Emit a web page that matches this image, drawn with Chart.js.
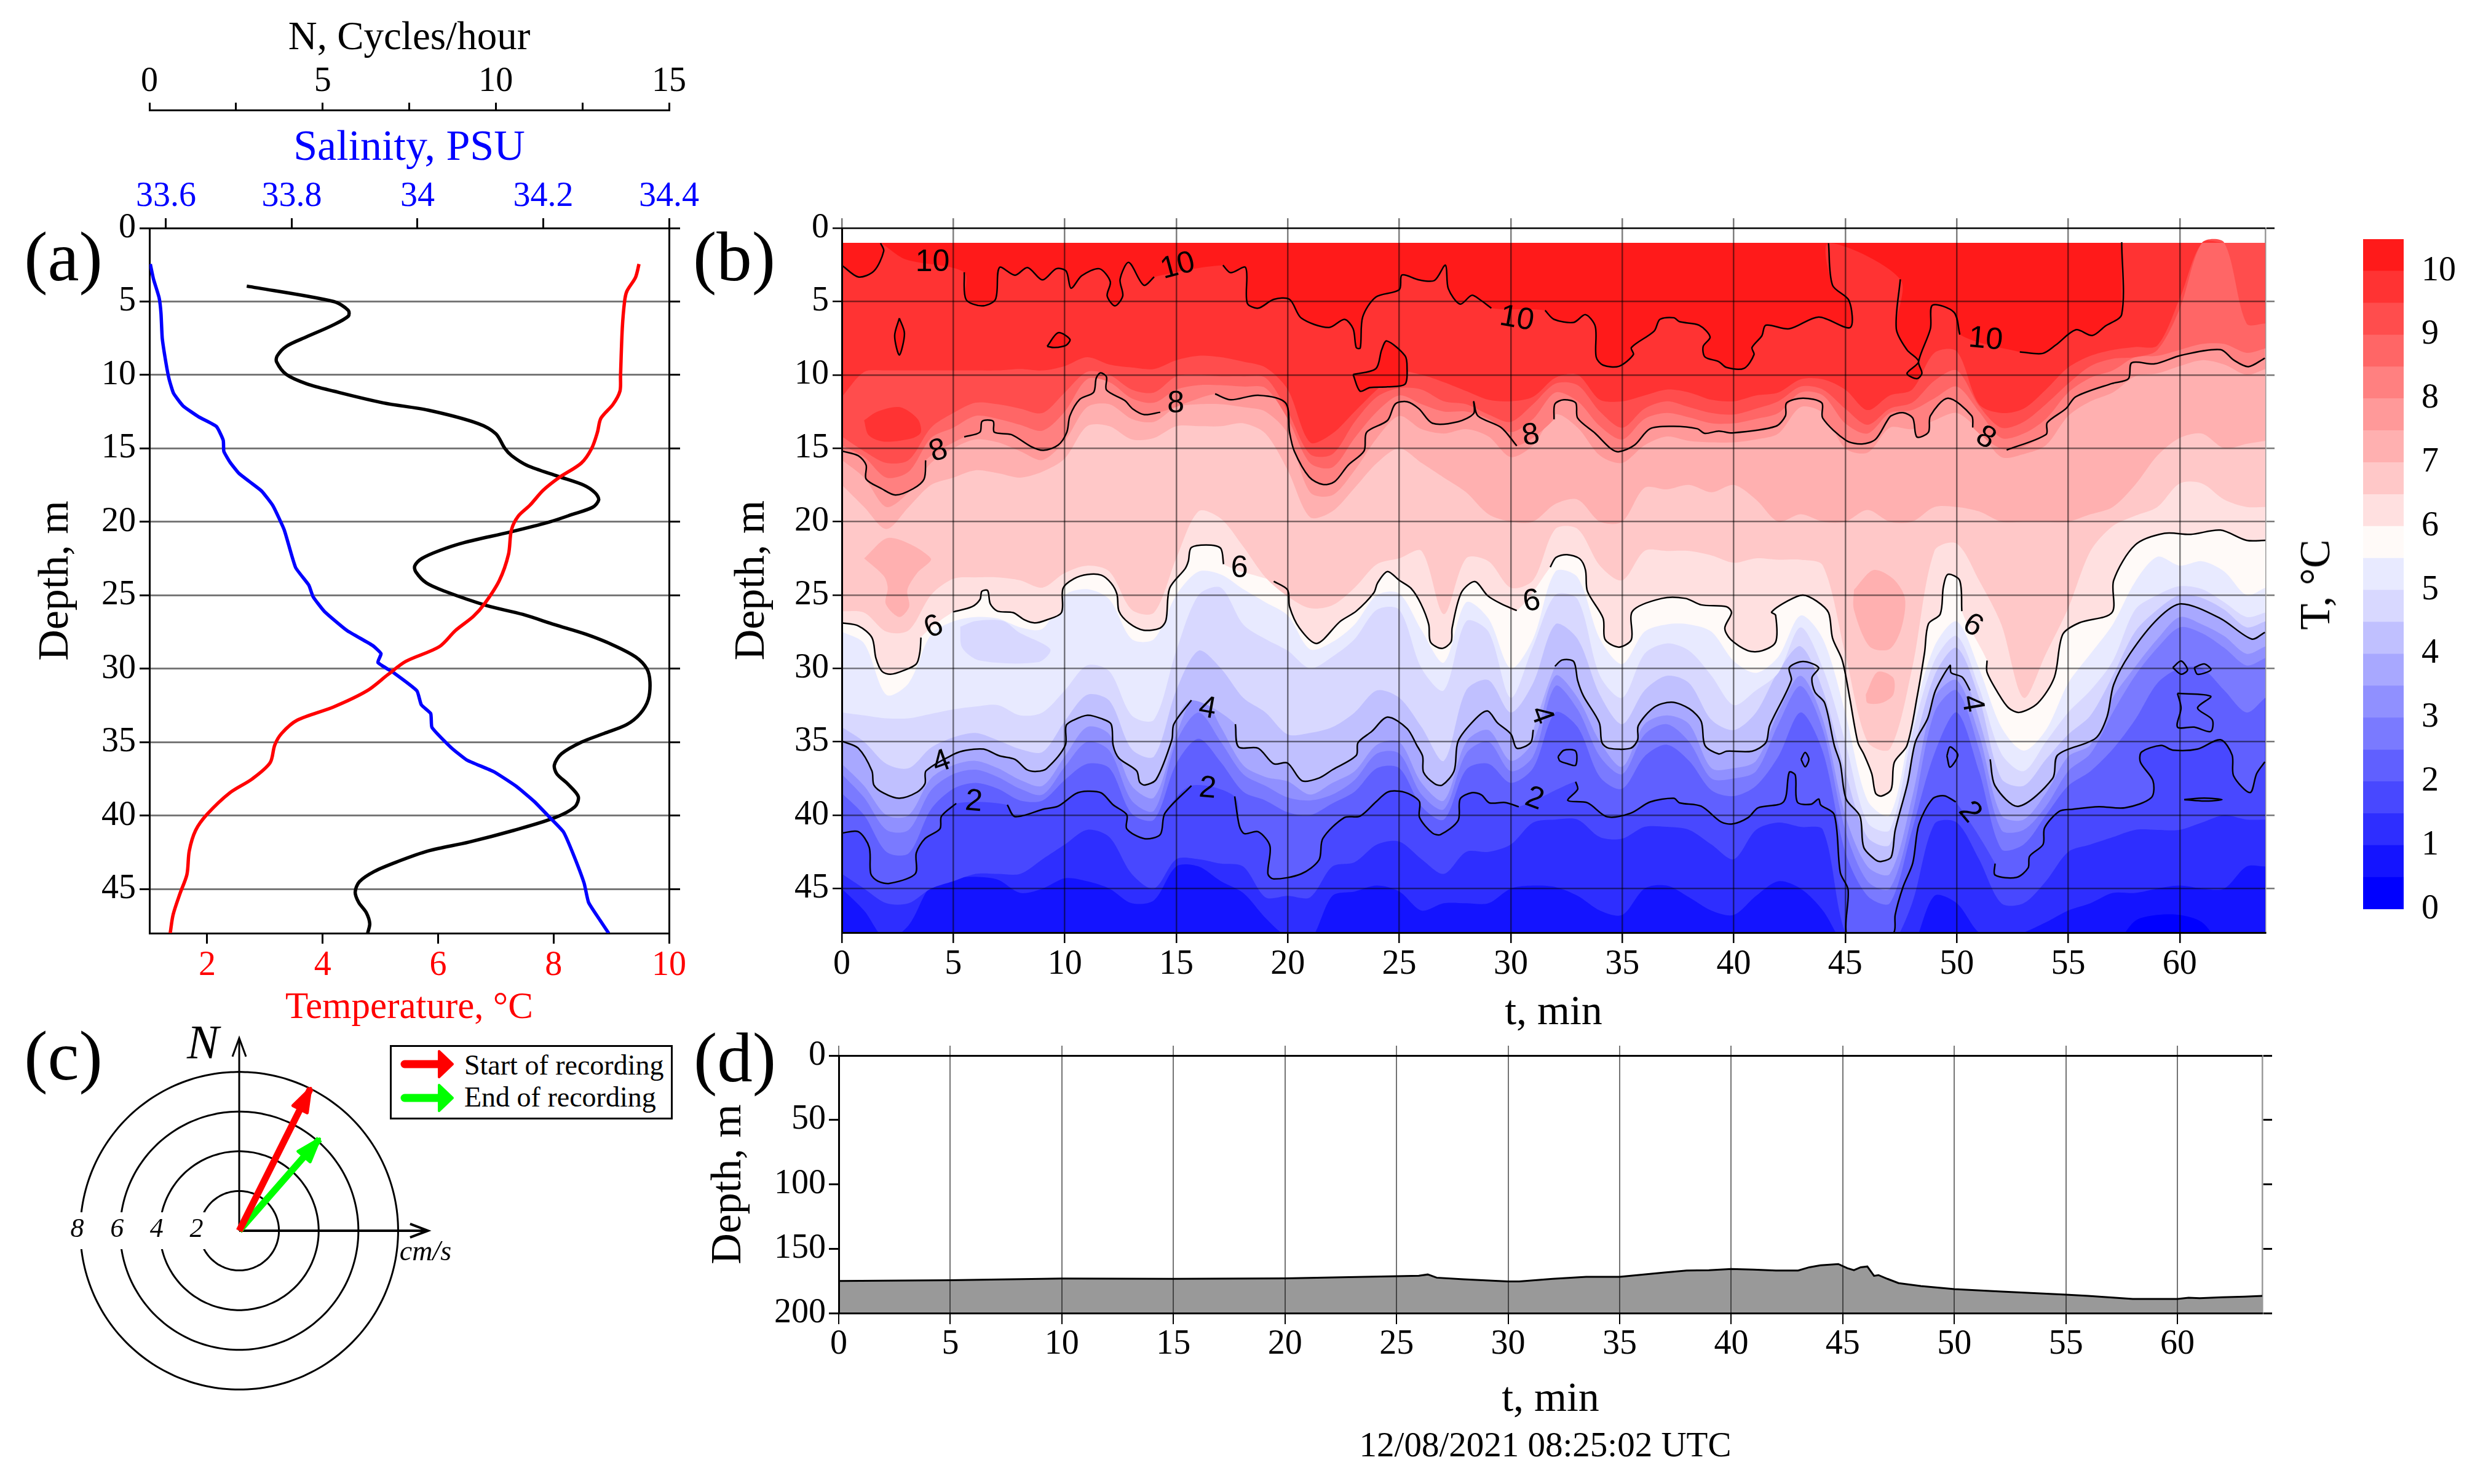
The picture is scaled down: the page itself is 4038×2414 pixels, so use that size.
<!doctype html>
<html><head><meta charset="utf-8">
<script src="https://cdn.jsdelivr.net/npm/chart.js@4"></script>
<style>
body{margin:0;background:#fff;width:4038px;height:2414px;position:relative;overflow:hidden;font-family:"Liberation Serif",serif;color:#000}
canvas{position:absolute;left:0;top:0}
.t{position:absolute;white-space:nowrap;transform:translate(-50%,-50%);line-height:1}
</style></head><body>
<canvas id="pa" width="4038" height="2414"></canvas>
<canvas id="pb" width="4038" height="2414"></canvas>
<canvas id="pc" width="4038" height="2414"></canvas>
<canvas id="pd" width="4038" height="2414"></canvas>
<canvas id="pbar" width="4038" height="2414"></canvas>
<div class="t" style="left:103px;top:417px;font-size:115px">(a)</div>
<div class="t" style="left:1194px;top:417px;font-size:115px">(b)</div>
<div class="t" style="left:103px;top:1717px;font-size:115px">(c)</div>
<div class="t" style="left:1195px;top:1720px;font-size:115px">(d)</div>
<div class="t" style="left:3765px;top:951px;font-size:70px;transform:translate(-50%,-50%) rotate(-90deg)">T, °C</div>
<div class="t" style="left:2513px;top:2349px;font-size:57px">12/08/2021 08:25:02 UTC</div>
<div style="position:absolute;left:634px;top:1700px;width:454px;height:115px;border:3px solid #000;background:#fff"></div>
<svg style="position:absolute;left:634px;top:1700px" width="460" height="121">
<path d="M24 31H90" stroke="#f00" stroke-width="13" stroke-linecap="round"/><path d="M80 10L102 31L80 52Z" fill="#f00" stroke="#f00" stroke-width="4" stroke-linejoin="round"/>
<path d="M24 86H90" stroke="#0f0" stroke-width="13" stroke-linecap="round"/><path d="M80 65L102 86L80 107Z" fill="#0f0" stroke="#0f0" stroke-width="4" stroke-linejoin="round"/>
</svg>
<div class="t" style="left:755px;top:1733px;font-size:46px;transform:translate(0,-50%)">Start of recording</div>
<div class="t" style="left:755px;top:1785px;font-size:46px;transform:translate(0,-50%)">End of recording</div>
<script>
// ---------- panel a: profiles, (value, depth)
const nCycles = [2.81,5.32,5.74,5.74,5.26,4.54,3.95,3.69,3.67,3.95,4.54,5.32,6.75,8.05,9.48,10,10.26,10.46,10.9,11.8,12.54,12.87,12.97,12.8,12.2,11.56,10.4,9.1,8.38,7.86,7.66,7.69,7.99,8.5,9.74,10.78,11.7,12.6,13.4,14.04,14.36,14.45,14.4,14.17,13.78,13.13,12.47,11.89,11.69,11.76,12.08,12.38,12.28,11.69,10.52,9.22,8.05,7.14,6.49,6.06,5.94,6.04,6.26,6.36,6.3];
const nDepth = [3.95,5,5.6,6,6.65,7.4,8.05,8.7,9.1,9.96,10.6,11.1,11.9,12.4,13.3,14,15,15.5,16.15,16.9,17.5,18.03,18.5,19,19.5,20,20.7,21.4,21.95,22.5,23,23.4,24.15,24.7,25.7,26.3,27,27.65,28.4,29.2,30,30.9,32.1,33.05,33.8,34.4,35,35.8,36.55,37.15,37.85,38.7,39.4,40.15,41,41.8,42.4,43.15,43.8,44.5,45.2,45.9,46.6,47.35,48];
const salinity = [33.575,33.58,33.589,33.592,33.594,33.6,33.605,33.612,33.627,33.652,33.68,33.691,33.692,33.702,33.716,33.734,33.752,33.77,33.788,33.806,33.827,33.834,33.852,33.888,33.928,33.942,33.937,33.963,33.999,34.006,34.021,34.023,34.053,34.078,34.121,34.157,34.186,34.211,34.232,34.247,34.265,34.272,34.29,34.304];
const salDepth = [2.45,3.46,4.74,5.8,7.5,9.2,10.3,11.25,12.1,12.85,13.5,14.45,15.2,15.95,16.7,17.3,17.9,18.9,20.55,23.1,24.3,25.1,26.1,27.4,28.4,28.97,29.57,30.3,31.5,32.45,33.05,34,35.35,36.2,37,38,39.05,40.15,41.1,42.55,44.6,45.9,47.1,48];
const temperature = [9.48,9.42,9.27,9.23,9.19,9.16,9.15,9.03,8.82,8.76,8.66,8.48,8.09,7.82,7.59,7.39,7.27,7.22,7.06,6.8,6.61,6.3,6.02,5.44,5.13,4.77,4.19,3.56,3.29,3.17,3.09,2.78,2.39,2,1.8,1.69,1.65,1.53,1.41,1.36];
const tempDepth = [2.45,3.35,4.3,5,6.87,10.07,11.1,12,12.95,13.9,15,16,17,17.85,18.87,19.6,20.55,22.2,24,25.6,26.44,27.4,28.5,29.5,30.4,31.5,32.6,33.5,34.4,35.2,36.4,37.5,38.45,39.9,41,42.4,44,45.3,46.75,48];
const depthTicksA = [0,5,10,15,20,25,30,35,40,45];
const nTicks = [0,2.5,5,7.5,10,12.5,15];
const salTicks = [33.6,33.8,34,34.2,34.4];
const tempTicks = [2,4,6,8,10];

// ---------- panel b: temperature section
const timeTicks = [0,5,10,15,20,25,30,35,40,45,50,55,60];
const bandColors = ['#0000FF','#1414FF','#2E2EFF','#4848FF','#6060FF','#7A7AFF','#9090FF','#A8A8FF','#C0C0FF','#D8D8FF','#E8EAFF','#FFFAF8','#FFE0E0','#FFC8C8','#FFB0B0','#FF9999','#FF8080','#FF6666','#FF4D4D','#FF3333','#FF1A1A'];
const barTicks = [0,1,2,3,4,5,6,7,8,9,10];
// one minute sampling for the unlabelled isotherms
const tMin = [0,1,2,3,4,5,6,7,8,9,10,11,12,13,14,15,16,17,18,19,20,21,22,23,24,25,26,27,28,29,30,31,32,33,34,35,36,37,38,39,40,41,42,43,44,45,46,47,48,49,50,51,52,53,54,55,56,57,58,59,60,61,62,63,63.84];
const lvl95 = [11.5,9.8,9.7,9.7,9.7,9.7,9.7,9.7,9.6,9.7, 9.4,8.8,9.3,9.5,9.6,9,8.7,8.8,9.1,9.5, 11,14.6,14,12.5,11,9.8,10,10.5,11.1,11.7, 11.8,11.5,10.2,10,11.7,11.8,11.4,11,11.2,11.7, 11.8,11.4,11.2,10.3,10.3,11,12.4,11.4,11,8.5, 8.4,12,12.6,12.3,11,9.5,8.7,8.3,8.1,8, 4.8,1,1,1,1];
const lvl90 = [14.2,15.2,16,15.8,13.6,12.6,11.9,12,12.3,12.6, 11.2,9.8,10,11,11.2,10.1,10,10.1,10.1,10.2, 12.5,15.4,15.4,13.2,11.5,10.9,11,11.8,12,12.7, 13.2,12,10.6,10.7,12.5,13.6,12.3,11.8,12.2,12.6, 12.7,12.3,11.8,10.8,11,12.3,13.4,12.3,11.9,10.4, 9.7,12.1,13.6,13.2,12,10.6,9.4,8.9,8.8,8.3, 5.5,1,1,6.5,6.5];
const lvl85 = [14.8,15.6,17,16.6,14.3,13.6,12.8,13,13.4,13.8, 12.5,10.3,10.5,11.6,11.9,11,10.7,10.7,10.8,10.9, 13,16,16.3,14.3,12.5,11.4,12,12.5,12.5,13, 13.9,13,11.2,11.8,13.5,14.4,13,12.6,12.9,13.3, 13.3,13,12.6,11.2,11.4,13.3,14,12.6,12.4,11.6, 10.8,12.5,14.3,14,13,11.2,10.2,9.7,8.8,8.7, 8.3,7.9,7.9,8.5,8.2];
const lvl75 = [15.8,17,19,18,16,15,14.4,14.6,15.2,15.8, 14.5,12.2,12,13,13.2,12.2,12,12,12.2,12.5, 14,18,18.2,16.5,14.3,12.8,13.7,14,13.7,14.2, 15.6,14.8,12.7,13.6,15.5,16,14.8,14.2,14.5,14.6, 14.6,14.4,14,12.2,12.6,15,15.3,13.6,13.7,13.1, 12.6,13.8,15.6,15.4,14.8,12.8,11.8,11.2,10.1,9.9, 9.4,9,9.3,10,9.6];
const lvl70 = [17.5,19,20.5,19,17.5,17,16.5,16.7,17,16.6, 15.7,13.5,13.5,14.4,14.3,13.5,13.5,13.5,13.3,14, 16.5,19.7,19.3,17.7,16,15,16,17,18,19.5, 20,20,18.8,18.5,20,20,17.7,17.8,17.5,18, 17.5,18.5,20,19.5,20,20,19.2,20,20,19, 19,19.3,20,20,20,20,19.5,19,17.5,15.5, 14.3,14,15,14.7,14.5];
const lvl65 = [26.1,26.2,27.5,27.4,25,23.9,23.8,23.8,24,24.5, 23.5,23,23.4,26,26.2,22.5,19.3,19.8,21.7,23.8, 25.1,25.9,25.7,24.5,22.9,22.5,22,26.3,22.5,22.7, 24.5,24,20.5,20.5,23,24,22,22,22,22.3, 22.8,22.5,22.6,22.6,23,29,35,35.5,30,22, 21.5,24,27,32,29,25.9,22,20.3,19.6,19, 17.4,17.4,18.5,19,19];
const lvl55 = [27.5,28.3,31.8,31,27.7,26.8,26.5,26.6,27.2,27.3, 25,24.6,25.3,28,28,25,23.4,23.6,24.6,25.5, 26.4,28.7,28.2,27,25,24.9,27.4,29.6,25.5,26.6, 30,28,23.4,23.8,28,29.7,27.5,27,27,27.5, 29.5,30.3,29.2,26.4,28,33,39,40,33.6,28.5, 26.8,30,34,35.6,34.2,31,29,27,24.1,22.4, 23,22.7,23.4,25,24.5];
const lvl50 = [33,33.2,33.4,33.4,33.1,32.8,32.6,32.5,33.2,33, 31.5,29.8,30.2,33.2,33.5,28.8,25,24.5,27,28, 28.8,30,29.2,28,26,26,30,31.5,26.8,27.5, 32,28.5,25,25.3,30.5,32,29,28.3,28.8,30.5, 32.5,31.5,30.3,27.2,30,35,40.5,41,34.5,29.5, 27.8,31.3,35.8,37,35,33,31.5,29.5,26,25, 24.4,24.6,25.5,26.5,26.2];
const lvl45 = [34,35,36.5,36.8,35.4,34.7,34.4,34.9,35.5,35.7, 33.6,31.8,32.2,35.5,36,31.5,28.8,30,32,33, 34.5,34.4,34,33,31.5,32,34,36.3,31.5,30.8, 33,31,27,28,31.8,33.8,31.5,30.5,31,33.5, 34.2,33,30.2,28.5,31.5,37,41.5,42,36,30.5, 28.6,32,37.5,38,36.2,34.5,33.2,30.5,27.5,26, 25,25.2,26,27.2,26.8];
const lvl35 = [36.5,38,40,40,37.5,36.6,36.3,36.8,37.6,38, 36,34,34.5,38,38.8,34.5,31.5,34,36.6,37.4, 37.7,38.6,37.8,37,35.2,35,37.8,39,35,34.2, 36.3,35,30.5,32,35,36.7,33.8,33.2,33.8,36.8, 36.8,36.3,33,30.5,33.5,40,43.5,44,38.8,32, 30.8,34.5,40,40.3,38.5,36,35.2,32,29.9,28, 26.5,27,27.8,29,28.5];
const lvl30 = [37.2,38.8,41,41,38.3,37.2,36.9,37.4,38.2,38.6, 36.7,35,35.6,39,39.7,35,33,35,37.2,38, 38.8,39,38.6,37.6,35.8,35.8,38.6,39.6,35.8,35, 37,36,31.2,32.8,36,37.2,34.5,33.8,35,37.5, 37.5,37,33.8,31.2,34.2,41,44.5,45,40,33, 31.5,35.5,41,41,39.4,37,35.8,33,30.5,28.6, 27.2,27.6,28.6,29.8,29.3];
const lvl25 = [38.5,40,42.5,42.6,39.6,38.2,37.8,38.2,39,39, 37.6,36.5,36.8,39.9,40.3,36.5,34.8,36.4,38.4,39, 39.8,40,39.2,38.4,36.8,36.8,39.4,40.3,36.9,36.5, 37.8,36.8,33,34,37.4,38.2,36,35.2,36.3,38.3, 38.7,38,36,33,35.7,42.5,45.5,46,41,35.8, 33,37,42.3,42,40,38,37,35.5,33.5,31, 30,30,31.5,33,32];
const lvl15 = [44,45,46,46,45,44.5,44,44,44,43, 42,41,41.5,44,45,43,43,43.3,43.5,45.6, 45.5,45.6,43.5,43.2,42,41.8,43,44,42.5,42.5, 42,40.5,40.3,40.3,41.5,41.6,40.8,40.8,41,42, 43,41,40.5,40.8,41,48,49,49,46,40.6, 40.5,43,46,46,44.5,42.5,42,41.5,41,41, 41,40.5,40,40.3,40.3];
const lvl10 = [45,46.5,48.5,47.5,44.8,44.3,44.2,44.4,45.3,45, 44.3,44.5,45,46,45.8,43.5,43.5,44.5,45.3,47, 48.3,48.5,45.5,45.2,44.8,45.2,46.5,46,46,46, 45,44.8,44.9,45.5,46.5,46.8,45,44.8,45.6,46.5, 46.8,45.5,44.5,45,46.5,49,50,50,49,45.5, 46,48,48.5,48,47.3,46.5,46,45.3,45.3,45, 44.8,45,45,43.5,43.5];
const lvl05 = [49,49,49,49,49,49,49,49,49,49, 49,49,49,49,49,49,49,49,49,49, 49,49,49,49,49,49,49,49,49,49, 49,49,49,49,49,49,49,49,49,49, 49,49,49,49,49,49,49,49,49,49, 49,49,49,49,49,49,49,49,47.2,46.8, 46.8,47.3,49,49,49];
// traced contours, null = gap for an inline label
const iso2T = [0,.74,1.23,1.3,1.62,2.14,3.29,3.34,3.73,4.4,4.47,5.13,6.72,7.42,7.77,9.09,9.7,10.5,11.02,11.64,12.17,12.78,12.78,13.57,14.28,14.49,15.68,17.14,17.62,17.83,18.06,18.67,19.2,19.11,19.37,20.6,21.4,21.57,22.54,23.24,23.95,24.47,25,25.53,25.91,25.91,26.49,26.85,27.64,27.73,28.25,28.69,29.04,29.75,30.36,31.68,32.91,33,32.56,33.44,34.32,35.37,36.25,37.31,37.57,38.54,39.42,39.94,40.65,41.09,42.23,42.49,42.76,42.85,43.46,43.81,43.9,44.51,44.78,45.13,45.04,45.5,46.5,47.19,47.24,47.59,48.03,48.3,48.91,49.44,49.96,51.2,51.72,51.72,52.68,53.2,53.27,53.87,53.94,54.6,55.19,56.37,57.55,58.73,58.8,58.24,58.29,59.17,59.69,60.8,61.83,62.35,62.42,63.16,63.45,63.82];
const iso2D = [41.22,41.13,42.19,44,44.5,44.65,44,42.57,41.6,40.93,40.07,39.2,null,39.3,40.1,39.57,39.39,38.53,38.37,38.49,39.3,39.97,40.93,41.6,41.32,39.87,37.99,null,38.72,40.74,41.26,41.13,42.1,44,44.35,44,43.05,41.6,40.16,40.07,39.1,38.43,38.37,38.62,39.1,40.16,41.22,41.32,40.36,38.9,38.47,38.62,39.16,39.14,39.43,null,37.72,38.24,39,39.16,40.11,39.87,39.1,38.85,39.16,39.39,40.45,40.6,40.16,39.5,39.1,37.08,37.27,39.1,39.26,38.9,39.3,39.97,43.92,45.08,47.97,49,49,47.97,46.8,44.9,43.25,40.64,38.9,38.68,39.1,null,43.3,44.08,44.24,43.6,42.8,42,40.87,39.74,39.6,39.42,39.5,38.8,37.65,36.4,35.7,35.25,35.57,35.5,34.86,35.9,37.33,38.46,37.17,36.37];
const iso4T = [0,.74,1.35,1.44,1.88,2.58,3.38,3.73,3.78,5.05,5.57,6.36,7.07,7.77,8.3,8.74,9.18,10.02,10.06,10.4,11.02,11.64,12.08,12.17,12.43,13.22,13.36,13.6,14.1,14.8,14.89,15.68,17.09,17.65,17.79,18.67,19.37,19.99,20.64,21.4,22.01,23.07,23.15,23.77,24.47,25.35,25.79,26.05,26.09,26.58,26.93,27.46,27.64,28.43,28.96,29.4,30.01,30.27,30.89,31.01,31.68,31.98,32.3,32.82,33,33.26,33.97,34.09,34.4,35.37,35.69,35.72,36.43,37.22,38.01,38.54,38.71,39.33,39.68,40.82,41.44,41.61,42.58,42.49,43.11,43.81,43.51,43.64,44.08,44.51,44.78,45.04,45.66,45.83,46.36,46.62,47.06,47.24,47.8,48.15,48.7,49.05,49.7,49.75,50.25,50.6,50.84,51.5,51.72,52.76,54.3,54.53,56.22,56.74,57.04,57.77,59.03,60.06,61.83,63.23,63.82];
const iso4D = [34.96,35.44,36.98,37.95,38.5,38.85,38.43,37.85,36.98,35.83,35.58,35.5,35.96,36.2,36.9,37.02,36.83,35.25,33.9,33.52,33.19,33.42,33.8,35.25,36.12,36.98,37.75,37.95,37.56,34.87,33.8,32.17,null,33.8,35.35,35.44,36.5,36.45,37.66,37.47,36.9,35.93,35.06,34.29,33.32,34.1,35.25,36,37.08,37.85,37.95,36.98,34.96,33.42,32.9,33.7,34.48,35.44,35.06,34.19,null,29.86,29.43,29.53,30.82,31.88,33.7,35.06,35.44,35.44,34.87,33.9,32.65,32.3,32.75,33.61,35.25,35.83,35.64,35.64,35.06,33.9,30.82,29.95,29.53,29.95,30.63,31.6,32.36,35.25,36.5,38.9,40.07,42.19,43.05,43.15,42.86,41.03,37.8,35,33.4,31.5,29.8,30.3,30.6,31.5,null,36.2,38,39.4,37.5,35.9,34.77,33.3,31.1,29,26.6,25.6,26.6,28,27.54];
const iso6T = [0,.74,1.35,1.53,1.8,2.18,2.76,3.34,3.5,3.55,4.7,5,5.84,6.2,6.28,6.54,6.66,6.98,7.68,8.2,8.65,9.18,9.85,9.92,10.4,11.02,11.64,12.08,12.34,12.43,12.87,13.54,14.28,14.54,14.7,15.4,15.54,15.68,16.56,17,17.12,18.58,19.37,19.99,20.08,20.52,21.3,22.35,23.07,23.86,24.03,24.47,25,25.53,25.97,26.32,26.4,26.9,27.32,27.37,27.78,28.39,28.96,29.57,30.27,31.6,31.77,32.03,32.52,33.09,33.35,33.44,34.14,34.23,34.85,35.41,35.46,36.78,37.83,38.54,39.68,39.9,39.6,39.86,40.65,41.26,41.88,41.88,41.7,42.4,43.1,43.72,44.25,44.43,44.87,45.2,45.57,45.83,46.19,46.36,46.62,47.06,47.2,47.77,48.24,48.56,48.73,49.26,49.4,49.6,50.13,50.23,51.06,51.36,51.36,51.87,52.32,52.8,53.64,54.38,54.75,55.49,56.96,57.04,58,59.32,60.5,61.83,63,63.84];
const iso6D = [26.9,27.1,27.9,29.3,30.2,30.4,30.15,29.7,28.9,27.9,null,26.15,25.8,25.3,24.75,24.7,25.6,26.1,26.2,26.7,26.9,26.7,26.2,24.55,23.9,23.6,23.65,24.2,24.95,26.1,26.9,27.4,27.25,26.7,24.55,23.2,22.7,21.76,21.6,21.84,22.9,null,24.07,24.65,25.8,27.25,28.3,26.8,26.1,24.85,24.17,23.4,24,24.55,25.6,27,28.2,28.64,28.2,27.25,24.85,24.08,25.04,25.6,26.06,null,23.1,22.44,22.25,22.53,23.3,24.75,26.58,28.03,28.55,28.03,26.1,25.23,25.23,25.67,25.8,26.2,27.25,28.03,28.8,28.8,28.2,26.39,26.16,25.42,25,25.42,26.2,27.93,29.47,32,35.06,35.83,37.18,38.5,38.7,38.24,36.4,35.25,31.8,28.9,26.97,26.3,24.46,23.6,24,26.1,null,29.47,30.27,31.72,32.68,33,32.36,30.6,27.7,26.9,26.2,24,21.6,20.8,20.87,20.58,21.28,21.28];
const iso8T = [0,.74,1.09,1.09,1.79,2.41,3.2,3.69,3.76,4.96,5.49,6.19,6.28,6.54,6.8,6.84,7.6,8.47,9.04,9.7,10.09,10.23,10.67,11.29,11.41,11.6,11.87,11.87,12.69,13.04,13.57,14.28,15.68,16.74,17.44,18.67,19.9,20.08,20.29,20.96,21.57,22.1,22.71,23.42,23.54,24.47,24.82,25.35,25.88,26.49,27.64,28.34,28.34,28.52,29.57,30.27,31.5,31.94,31.98,32.38,32.91,33,33.79,34.49,34.85,35.55,36.25,37.31,38.36,38.71,39.33,39.94,41.88,42.32,42.37,43.11,43.95,43.99,45.04,45.75,46.36,46.89,47.06,47.59,48.03,48.21,48.73,48.82,49.61,50.67,50.72,51.87,52.24,54.01,54.06,54.9,55.34,56.96,57.7,57.85,58.88,60.06,61.83,62.42,63.08,63.82];
const iso8D = [15.19,15.51,16.15,17.1,17.76,18.19,17.76,17.1,15.83,null,14.23,13.91,13.19,13.08,13.19,13.91,14.07,14.87,15.14,14.79,13.91,12.79,11.67,11.19,10.22,9.86,10.14,11.03,11.75,12.31,12.71,12.55,null,11.3,11.7,11.39,11.91,13.91,15.19,16.96,17.47,17.28,16.15,15.19,13.91,13.11,11.99,11.83,12.31,13.3,13.19,12.63,11.83,12.79,13.59,14.84,null,13.03,11.99,11.7,11.91,12.95,13.99,15.03,15.24,14.79,13.67,13.51,13.67,13.99,13.83,13.96,13.51,12.79,11.91,11.59,11.91,12.95,14.47,14.71,14.39,13.11,12.79,12.58,12.95,14.23,13.91,12.79,11.59,12.79,13.59,null,15.12,14.06,13.26,12.3,11.49,10.59,10.27,9.18,9.25,8.67,8.28,8.99,9.44,8.86];
const iso10T = [0,.74,1.44,1.88,1.74,2.44,2.85,5.05,5.49,5.57,6.28,6.89,7.07,7.77,8.33,9,9.62,10.06,10.28,10.76,11.55,12.04,11.9,12.25,12.6,12.48,12.87,13.54,14.01,16.12,17.09,17.44,18.11,18.18,18.67,19.37,20.08,20.61,21.84,22.54,22.93,23.07,23.25,23.36,23.95,25,25.12,25.88,26.58,27.07,27.2,27.73,28.25,28.6,29.13,31.24,31.54,31.94,32.82,33.35,33.79,33.83,34.14,34.85,35.5,35.41,36.43,36.69,37.31,37.57,38.45,38.94,38.63,38.71,39.33,39.68,40.47,40.91,40.82,41.26,41.44,42.49,43.81,45.22,45.17,44.43,44.25,46.98,47.47,47.29,47.77,48.29,47.77,48.21,48.44,48.29,48.82,48.91,49.88,50.14,52.39,52.83,53.86,54.45,55.34,56.08,56.66,57.4,57.4];
const iso10D = [2.53,3.33,2.93,1.57,1.03,null,2.13,null,3.01,4.86,5.3,4.86,2.69,3.21,2.69,3.53,2.77,2.93,4.1,3.25,2.77,3.65,4.62,5.3,4.62,3.49,2.34,3.89,3.33,null,2.53,3.04,2.69,5.1,5.46,4.86,4.86,6.14,6.78,6.22,6.86,8.14,8.17,6.06,4.7,4.2,3.2,3.53,3.57,2.53,4.13,5.18,4.58,4.86,5.46,null,5.61,6.22,6.43,5.9,6.7,8.78,9.34,9.42,8.62,8.14,7.02,6.22,6.11,6.38,6.62,7.42,8.06,8.78,9.1,9.5,9.55,8.62,8.14,7.34,6.62,6.86,6.06,6.78,4.94,3.89,1.03,null,3.49,6.86,8.3,9.1,9.9,10.26,9.9,9.1,6.86,5.26,5.74,7.26,null,8.44,8.54,7.96,6.93,7.32,6.68,5.87,.96];
// small closed patches
const patchWarmT = [1,1.6,2.6,3.4,3.55,3.2,1.9,1.2], patchWarmD = [13.1,12.5,12.2,13,13.9,14.3,14.55,14.1];
const patchLavT = [5.31,6,7.24,7.94,9.35,8.82,6.19,5.4], patchLavD = [27.16,26.77,26.77,27.54,28.7,29.57,29.47,28.6];
const patchPinkT = [1,1.88,2.06,1.97,2.58,3.02,2.94,3.38,3.99,2.14], patchPinkD = [22.5,23.7,24.5,25.6,26.5,25.8,24.65,23.5,22.5,21.1];
const patchTongueT = [45.39,46.27,47.15,47.68,47.5,46.97,46.09,45.39], patchTongueD = [24.65,23.3,23.9,25.23,27.35,28.7,28.5,26];
const patchTongue2T = [45.92,46.45,47.15,47.15,46.62,46], patchTongue2D = [31.8,30.24,30.63,31.8,32.36,32.36];
const blob1T = [2.58,2.81,2.58,2.37], blob1D = [6.14,7.18,8.65,7.34];
const blob2T = [9.21,9.7,10.23,10.06,9.53], blob2D = [8.06,7.13,7.58,7.98,8.14];
const blob3T = [22.93,23.95,24.21,24.44,25.26,25.35,25.26,24.47,23.68,23.24], blob3D = [9.98,9.58,8.3,7.69,8.7,9.5,10.63,10.82,10.87,11.11];
const loop1T = [32.12,32.38,32.91,32.91,32.56,32.2], loop1D = [36.02,35.58,35.64,36.6,36.5,36.3];
const loop2T = [43.02,43.2,43.37,43.2], loop2D = [36.2,35.73,36.2,36.7];
const loop3T = [49.56,49.7,50.05,49.7], loop3D = [35.96,35.35,35.9,36.73];
const loop4T = [59.69,60.06,60.35,60.06], loop4D = [29.95,29.5,30.1,30.4];
const loop5T = [60.65,61.1,61.4,60.8], loop5D = [29.95,29.7,30.1,30.4];
const loop6T = [59.9,61.39,60.8,61.46,61.39,60.65,59.9,60.06], loop6D = [31.7,31.9,32.7,33.5,34.3,34,34,32.7];
const loop7T = [60.2,61.1,61.9,61.1], loop7D = [38.94,38.84,38.94,39.04];
const labelText = ['10','10','10','10','8','8','8','8','6','6','6','6','4','4','4','4','2','2','2','2'];
const labelT = [4.07,15.07,30.27,51.3,4.34,14.98,30.9,51.3,4.13,17.83,30.94,50.72,4.47,16.4,31.36,50.67,5.92,16.4,31.06,50.58];
const labelD = [2.37,2.6,6.2,7.6,15.2,12,14.15,14.3,27.2,23.2,25.46,27.1,36.4,32.75,33.2,32.4,39.1,38.2,38.9,39.8];
const labelRot = [0,-15,10,5,-20,0,-10,30,-25,0,-10,30,-20,10,70,80,5,5,20,50];

// ---------- panel c: current vectors
const ringRadii = [2,4,6,8];
const startVec = [3.59,7.17], endVec = [4.04,4.62];

// ---------- panel d: bottom depth
const floorT = [0,5,10,15,20,25,26,26.4,26.8,28,30,30.5,32,33.5,35,37,38,39,40,41,42,43,43.5,44,44.8,45.2,45.5,45.8,46.1,46.4,46.6,47,47.5,48.5,50,52,55,56,58,60,60.5,61,62,63,63.84];
const floorD = [175,174.5,173.2,173.4,173,171.4,171,170,172.5,173.8,175.4,175.4,173.4,171.8,171.8,168.5,167,166.7,165.8,166.2,167,166.9,164.4,162.9,161.9,165.1,166.7,164.4,163.8,171.1,170.5,173.4,176.7,179,181.4,183.2,185.7,186.6,189,189,188.1,188.4,187.7,187.2,186.6];
const depthTicksD = [0,50,100,150,200];

Chart.defaults.font.family = '"Liberation Serif"';
Chart.defaults.color = '#000';
const zip = (xs, ys) => xs.map((x, i) => ({x, y: ys[i]}));
const solid = (xs, ys) => zip(xs, ys).filter(p => p.y !== null);
const fit = n => s => {
  if (s.isHorizontal()) s.height = n; else s.width = n;
  s.paddingLeft = s.paddingRight = s.paddingTop = s.paddingBottom = 0;
};
const useTicks = arr => s => { s.ticks = arr.map(v => ({value: v})); };
const line = (data, extra) => Object.assign({data, pointRadius: 0, borderWidth: 2.5, borderColor: '#000', fill: false, tension: 0.3}, extra);
const base = {responsive: false, animation: false, devicePixelRatio: 1, events: [],
  plugins: {legend: {display: false}, tooltip: {enabled: false}}};
const pad = (left, top, right, bottom) => ({padding: {left, top, right: 4038 - right, bottom: 2414 - bottom}});
const tickFont = {size: 56};

// (a)
new Chart(document.getElementById('pa'), {
  type: 'line',
  data: {datasets: [
    line(zip(temperature, tempDepth), {xAxisID: 'xT', yAxisID: 'y', borderColor: '#f00', borderWidth: 5.5}),
    line(zip(salinity, salDepth), {xAxisID: 'xS', yAxisID: 'y', borderColor: '#00f', borderWidth: 5.5, tension: 0.15}),
    line(zip(nCycles, nDepth), {xAxisID: 'xN', yAxisID: 'y', borderWidth: 5.5})
  ]},
  options: {...base, layout: pad(50, 19, 1088, 1677), scales: {
    xN: {type: 'linear', position: 'top', weight: 2, min: 0, max: 15, afterFit: fit(160), afterBuildTicks: useTicks(nTicks),
      border: {color: '#000', width: 3}, grid: {drawOnChartArea: false, tickLength: 12, tickColor: '#000', lineWidth: 3},
      ticks: {font: tickFont, padding: 0, maxRotation: 0, autoSkip: false, callback: v => v % 5 === 0 ? String(v) : ''},
      title: {display: true, text: 'N, Cycles/hour', font: {size: 65}, padding: {top: 5, bottom: 0}}},
    xS: {type: 'linear', position: 'top', weight: 1, min: 33.5736, max: 34.4, afterFit: fit(192), afterBuildTicks: useTicks(salTicks),
      border: {color: '#000', width: 3}, grid: {drawOnChartArea: false, tickLength: 16, tickColor: '#000', lineWidth: 3},
      ticks: {font: tickFont, color: '#00f', padding: 1, maxRotation: 0, autoSkip: false, callback: v => v === 34 ? '34' : v.toFixed(1)},
      title: {display: true, text: 'Salinity, PSU', color: '#00f', font: {size: 70}, padding: {top: 21, bottom: 0}}},
    xT: {type: 'linear', position: 'bottom', min: 1, max: 10, afterFit: fit(159), afterBuildTicks: useTicks(tempTicks),
      border: {color: '#000', width: 3}, grid: {drawOnChartArea: false, tickLength: 17, tickColor: '#000', lineWidth: 3},
      ticks: {font: tickFont, color: '#f00', padding: 3, maxRotation: 0, autoSkip: false, callback: v => String(v)},
      title: {display: true, text: 'Temperature, °C', color: '#f00', font: {size: 61}, padding: 0}},
    y: {type: 'linear', position: 'left', reverse: true, min: 0, max: 48, afterFit: fit(193), afterBuildTicks: useTicks(depthTicksA),
      border: {color: '#000', width: 3},
      grid: {color: c => c.tick && c.tick.value === 0 ? '#000' : '#777', lineWidth: 3, tickLength: 16, tickColor: '#000', z: -1},
      ticks: {font: tickFont, padding: 6, callback: v => String(v)},
      title: {display: true, text: 'Depth, m', font: {size: 70}, padding: 0}},
    yR: {type: 'linear', position: 'right', reverse: true, min: 0, max: 48, afterFit: fit(0), afterBuildTicks: useTicks(depthTicksA),
      border: {color: '#000', width: 3}, grid: {drawOnChartArea: false, tickLength: 18, tickColor: '#000', lineWidth: 3},
      ticks: {callback: () => ''}}
  }}
});

// (b)
const band = (lvl, xs, ys) => line(solid(xs, ys), {borderWidth: 0, backgroundColor: bandColors[lvl], fill: {value: 1}});
const patch = (idx, xs, ys) => line(zip(xs.concat(xs[0]), ys.concat(ys[0])), {borderWidth: 0, backgroundColor: bandColors[idx], fill: 'shape'});
const ring = (xs, ys) => line(zip(xs.concat(xs[0]), ys.concat(ys[0])));
const blob = (xs, ys) => line(zip(xs.concat(xs[0]), ys.concat(ys[0])), {backgroundColor: bandColors[20], fill: 'shape'});
const contourLabels = {
  id: 'contourLabels',
  afterDatasetsDraw(chart) {
    const {ctx, scales: {x, y}} = chart;
    ctx.save();
    ctx.font = '50px "Liberation Sans"';
    ctx.fillStyle = '#000';
    ctx.textAlign = 'center';
    ctx.textBaseline = 'middle';
    labelText.forEach((txt, i) => {
      ctx.save();
      ctx.translate(x.getPixelForValue(labelT[i]), y.getPixelForValue(labelD[i]));
      ctx.rotate(labelRot[i] * Math.PI / 180);
      ctx.fillText(txt, 0, 0);
      ctx.restore();
    });
    ctx.restore();
  }
};
const gridB = {lineWidth: 2.5, tickLength: 15, z: 1};
new Chart(document.getElementById('pb'), {
  type: 'line',
  data: {datasets: [
    line(zip(iso10T, iso10D)), line(zip(iso8T, iso8D)), line(zip(iso6T, iso6D)), line(zip(iso4T, iso4D)), line(zip(iso2T, iso2D)),
    ring(loop1T, loop1D), ring(loop2T, loop2D), ring(loop3T, loop3D), ring(loop4T, loop4D), ring(loop5T, loop5D), ring(loop6T, loop6D), ring(loop7T, loop7D),
    blob(blob1T, blob1D), blob(blob2T, blob2D), blob(blob3T, blob3D),
    patch(19, patchWarmT, patchWarmD), patch(9, patchLavT, patchLavD), patch(14, patchPinkT, patchPinkD), patch(14, patchTongueT, patchTongueD), patch(14, patchTongue2T, patchTongue2D),
    band(20, iso10T, iso10D), band(19, tMin, lvl95), band(18, tMin, lvl90), band(17, tMin, lvl85), band(16, iso8T, iso8D), band(15, tMin, lvl75),
    band(14, tMin, lvl70), band(13, tMin, lvl65), band(12, iso6T, iso6D), band(11, tMin, lvl55), band(10, tMin, lvl50), band(9, tMin, lvl45),
    band(8, iso4T, iso4D), band(7, tMin, lvl35), band(6, tMin, lvl30), band(5, tMin, lvl25), band(4, iso2T, iso2D), band(3, tMin, lvl15),
    band(2, tMin, lvl10), band(1, tMin, lvl05),
    line([{x: 0, y: 48}, {x: 63.84, y: 48}], {borderWidth: 0, backgroundColor: bandColors[0], fill: {value: 1}})
  ]},
  plugins: [contourLabels],
  options: {...base, layout: pad(1182, 371, 3684, 1689), scales: {
    x: {type: 'linear', position: 'bottom', min: 0, max: 63.84, afterFit: fit(172), afterBuildTicks: useTicks(timeTicks),
      border: {color: '#000', width: 3, z: 1},
      grid: {...gridB, color: 'rgba(0,0,0,.5)', tickLength: 17, tickColor: '#000'},
      ticks: {font: tickFont, padding: 2, maxRotation: 0, autoSkip: false, callback: v => String(v)},
      title: {display: true, text: 't, min', font: {size: 68}, padding: 0}},
    xTop: {type: 'linear', position: 'top', min: 0, max: 63.84, afterFit: fit(0), afterBuildTicks: useTicks(timeTicks),
      border: {display: false}, grid: {drawOnChartArea: false, tickLength: 16, tickColor: '#777', lineWidth: 2.5}, ticks: {callback: () => ''}},
    y: {type: 'linear', position: 'left', reverse: true, min: 0, max: 48, afterFit: fit(187), afterBuildTicks: useTicks(depthTicksA),
      border: {color: '#000', width: 3, z: 1},
      grid: {...gridB, color: c => c.tick && c.tick.value === 0 ? '#000' : 'rgba(0,0,0,.5)', tickColor: '#000'},
      ticks: {font: tickFont, padding: 6, callback: v => String(v)},
      title: {display: true, text: 'Depth, m', font: {size: 70}, padding: 0}},
    yR: {type: 'linear', position: 'right', reverse: true, min: 0, max: 48, afterFit: fit(0), afterBuildTicks: useTicks(depthTicksA),
      border: {color: '#999', width: 2.5}, grid: {drawOnChartArea: false, tickLength: 15, tickColor: c => c.tick && c.tick.value === 0 ? '#000' : '#777', lineWidth: 2.5},
      ticks: {callback: () => ''}}
  }}
});

// colour bar, right axis keeps its real width because labels are clipped to the scale box
new Chart(document.getElementById('pbar'), {
  type: 'bar',
  data: {labels: ['T'], datasets: bandColors.map(c => ({data: [0.5], backgroundColor: c, borderWidth: 0, barPercentage: 1, categoryPercentage: 1}))},
  options: {...base, layout: pad(3843, 389, 4038, 1479), scales: {
    x: {stacked: true, display: false},
    y: {stacked: true, position: 'right', min: 0, max: 10.5, afterFit: fit(129), afterBuildTicks: useTicks(barTicks),
      border: {display: false}, grid: {display: false},
      ticks: {font: tickFont, padding: 21, callback: v => String(v)}}
  }}
});

// (c)
const circlePts = r => { const pts = []; for (let a = 0; a <= 360; a += 3) pts.push({x: r * Math.sin(a * Math.PI / 180), y: r * Math.cos(a * Math.PI / 180)}); return pts; };
const rose = {
  id: 'rose',
  afterDatasetsDraw(chart) {
    const {ctx, scales: {x, y}} = chart;
    const X = v => x.getPixelForValue(v), Y = v => y.getPixelForValue(v);
    const cx = X(0), cy = Y(0);
    ctx.save();
    ctx.strokeStyle = '#000'; ctx.lineWidth = 3;
    ctx.beginPath(); ctx.moveTo(cx - 11, Y(9.7) + 30); ctx.lineTo(cx, Y(9.7)); ctx.lineTo(cx + 11, Y(9.7) + 30); ctx.stroke();
    ctx.lineWidth = 4;
    ctx.beginPath(); ctx.moveTo(X(9.5) - 29, cy - 11); ctx.lineTo(X(9.5), cy); ctx.lineTo(X(9.5) - 29, cy + 11); ctx.stroke();
    [[startVec, '#f00'], [endVec, '#0f0']].forEach(([v, col]) => {
      const tx = X(v[0]), ty = Y(v[1]), a = Math.atan2(ty - cy, tx - cx);
      ctx.save(); ctx.translate(tx, ty); ctx.rotate(a);
      ctx.fillStyle = ctx.strokeStyle = col; ctx.lineWidth = 5; ctx.lineJoin = 'round';
      ctx.beginPath(); ctx.moveTo(0, 0); ctx.lineTo(-38, -13); ctx.lineTo(-38, 13); ctx.closePath(); ctx.fill(); ctx.stroke();
      ctx.restore();
    });
    ctx.fillStyle = '#000'; ctx.textAlign = 'center'; ctx.textBaseline = 'middle';
    ctx.font = 'italic 44px "Liberation Serif"';
    ringRadii.forEach(r => {
      const lx = X(-r) - 5;
      ctx.fillStyle = '#fff'; ctx.fillRect(lx - 14, cy - 30, 28, 60);
      ctx.fillStyle = '#000'; ctx.fillText(String(r), lx, cy - 2);
    });
    ctx.font = 'italic 78px "Liberation Serif"'; ctx.fillText('N', 330, 1700);
    ctx.font = 'italic 46px "Liberation Serif"'; ctx.fillText('cm/s', 692, 2038);
    ctx.restore();
  }
};
new Chart(document.getElementById('pc'), {
  type: 'line',
  data: {datasets: [
    line(zip([0, startVec[0]], [0, startVec[1]]), {borderColor: '#f00', borderWidth: 11}),
    line(zip([0, endVec[0]], [0, endVec[1]]), {borderColor: '#0f0', borderWidth: 11}),
    line(zip([0, 0], [0, 9.7]), {borderWidth: 3}),
    line(zip([0, 9.5], [0, 0]), {borderWidth: 4})
  ].concat(ringRadii.map(r => line(circlePts(r), {borderWidth: 3})))},
  plugins: [rose],
  options: {...base, layout: pad(98.3, 1688.7, 695.9, 2276.5), scales: {
    x: {type: 'linear', display: false, min: -9, max: 9.5},
    y: {type: 'linear', display: false, min: -8.5, max: 9.7}
  }}
});

// (d)
new Chart(document.getElementById('pd'), {
  type: 'line',
  data: {datasets: [line(zip(floorT, floorD), {borderWidth: 3, backgroundColor: '#999', fill: {value: 200}, tension: 0})]},
  options: {...base, layout: pad(1144, 1717, 3679, 2318), scales: {
    x: {type: 'linear', position: 'bottom', min: 0, max: 63.8, afterFit: fit(182), afterBuildTicks: useTicks(timeTicks),
      border: {color: '#000', width: 3, z: 1},
      grid: {color: 'rgba(0,0,0,.55)', lineWidth: 2, tickLength: 18, tickColor: '#000', z: 1},
      ticks: {font: tickFont, padding: 0, maxRotation: 0, autoSkip: false, callback: v => String(v)},
      title: {display: true, text: 't, min', font: {size: 68}, padding: 0}},
    xTop: {type: 'linear', position: 'top', min: 0, max: 63.8, afterFit: fit(0), afterBuildTicks: useTicks(timeTicks),
      border: {display: false}, grid: {drawOnChartArea: false, tickLength: 16, tickColor: '#777', lineWidth: 2}, ticks: {callback: () => ''}},
    y: {type: 'linear', position: 'left', reverse: true, min: 0, max: 200, afterFit: fit(220), afterBuildTicks: useTicks(depthTicksD),
      border: {color: '#000', width: 3, z: 1},
      grid: {color: c => c.tick && (c.tick.value === 0 || c.tick.value === 200) ? '#000' : 'rgba(0,0,0,0)', lineWidth: 3, tickLength: 16, tickColor: '#000', z: 1},
      ticks: {font: tickFont, padding: 5, callback: v => String(v)},
      title: {display: true, text: 'Depth, m', font: {size: 70}, padding: 0}},
    yR: {type: 'linear', position: 'right', reverse: true, min: 0, max: 200, afterFit: fit(0), afterBuildTicks: useTicks(depthTicksD),
      border: {color: '#999', width: 2.5}, grid: {drawOnChartArea: false, tickLength: 16, tickColor: '#000', lineWidth: 3},
      ticks: {callback: () => ''}}
  }}
});
</script>
</body></html>
